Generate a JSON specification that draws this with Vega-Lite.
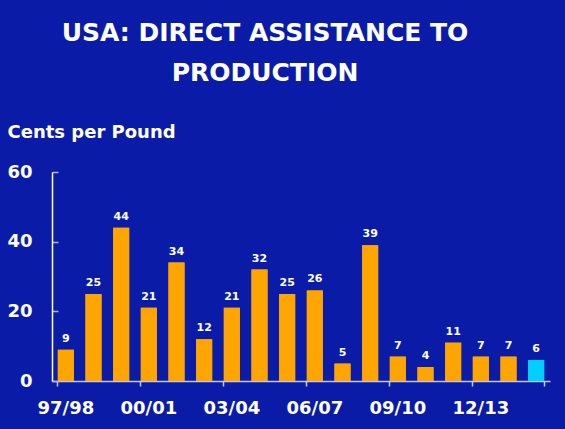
{
  "$schema": "https://vega.github.io/schema/vega-lite/v6.json",
  "width": 498,
  "height": 209,
  "autosize": {"type": "none"},
  "padding": {"left": 52, "top": 172, "right": 15, "bottom": 48},
  "background": "#0a1ba8",
  "config": {"view": {"stroke": null}, "font": "DejaVu Sans"},
  "title": {
    "text": ["USA: DIRECT ASSISTANCE TO", "PRODUCTION"],
    "font": "DejaVu Sans",
    "fontSize": 25,
    "fontWeight": "bold",
    "color": "white",
    "lineHeight": 40,
    "anchor": "middle",
    "dx": -36,
    "offset": 37
  },
  "data": {
    "values": [
      {"yr": "97/98", "v": 9, "kind": "actual"},
      {"yr": "98/99", "v": 25, "kind": "actual"},
      {"yr": "99/00", "v": 44, "kind": "actual"},
      {"yr": "00/01", "v": 21, "kind": "actual"},
      {"yr": "01/02", "v": 34, "kind": "actual"},
      {"yr": "02/03", "v": 12, "kind": "actual"},
      {"yr": "03/04", "v": 21, "kind": "actual"},
      {"yr": "04/05", "v": 32, "kind": "actual"},
      {"yr": "05/06", "v": 25, "kind": "actual"},
      {"yr": "06/07", "v": 26, "kind": "actual"},
      {"yr": "07/08", "v": 5, "kind": "actual"},
      {"yr": "08/09", "v": 39, "kind": "actual"},
      {"yr": "09/10", "v": 7, "kind": "actual"},
      {"yr": "10/11", "v": 4, "kind": "actual"},
      {"yr": "11/12", "v": 11, "kind": "actual"},
      {"yr": "12/13", "v": 7, "kind": "actual"},
      {"yr": "13/14", "v": 7, "kind": "actual"},
      {"yr": "14/15", "v": 6, "kind": "projected"}
    ]
  },
  "resolve": {"axis": {"x": "independent"}},
  "layer": [
    {
      "mark": {"type": "bar"},
      "encoding": {
        "x": {
          "field": "yr", "type": "ordinal", "sort": null,
          "scale": {"paddingInner": 0.42, "paddingOuter": 0.21},
          "axis": {
            "orient": "bottom", "title": null,
            "values": ["97/98", "00/01", "03/04", "06/07", "09/10", "12/13"],
            "ticks": false, "domain": true, "domainColor": "#c8c8ec", "domainWidth": 1.5,
            "labelColor": "white", "labelFontSize": 18, "labelFontWeight": "bold",
            "labelAngle": 0, "labelPadding": 18, "labelFont": "DejaVu Sans"
          }
        },
        "y": {
          "field": "v", "type": "quantitative",
          "scale": {"domain": [0, 60]},
          "axis": {
            "values": [0, 20, 40, 60], "grid": false,
            "tickSize": -6, "tickColor": "#b0b0e8", "tickWidth": 1.5, "domainColor": "#ffffff", "domainWidth": 1.5,
            "labelColor": "white", "labelFontSize": 18, "labelFontWeight": "bold",
            "labelPadding": 26, "labelFont": "DejaVu Sans",
            "title": "Cents per Pound", "titleAngle": 0, "titleAlign": "left", "titleBaseline": "top",
            "titleX": -45, "titleY": -49, "titleFontSize": 18, "titleFontWeight": "bold",
            "titleColor": "white", "titleFont": "DejaVu Sans"
          }
        },
        "color": {
          "field": "kind", "type": "nominal",
          "scale": {"domain": ["actual", "projected"], "range": ["#ffa500", "#00d0ff"]},
          "legend": null
        }
      }
    },
    {
      "mark": {"type": "text", "baseline": "bottom", "dy": -6, "color": "white", "fontSize": 11, "fontWeight": "bold", "font": "DejaVu Sans"},
      "encoding": {
        "x": {
          "field": "yr", "type": "ordinal", "sort": null,
          "axis": {
            "orient": "bottom", "title": null, "labels": false, "domain": false,
            "ticks": true, "tickSize": 5, "tickColor": "#c8c8ec", "tickWidth": 1.5, "bandPosition": 0,
            "values": ["97/98", "00/01", "03/04", "06/07", "09/10", "12/13"]
          }
        },
        "y": {"field": "v", "type": "quantitative"},
        "text": {"field": "v", "type": "quantitative"}
      }
    },
    {
      "mark": {"type": "bar"},
      "encoding": {
        "x": {
          "field": "yr", "type": "ordinal", "sort": null,
          "axis": {
            "orient": "bottom", "title": null, "labels": false, "domain": false,
            "ticks": true, "tickSize": 5, "tickColor": "#c8c8ec", "tickWidth": 1.5, "bandPosition": 1,
            "values": ["14/15"]
          }
        },
        "y": {"field": "v", "type": "quantitative"},
        "color": {
          "field": "kind", "type": "nominal",
          "scale": {"domain": ["actual", "projected"], "range": ["#ffa500", "#00d0ff"]},
          "legend": null
        }
      }
    }
  ]
}
